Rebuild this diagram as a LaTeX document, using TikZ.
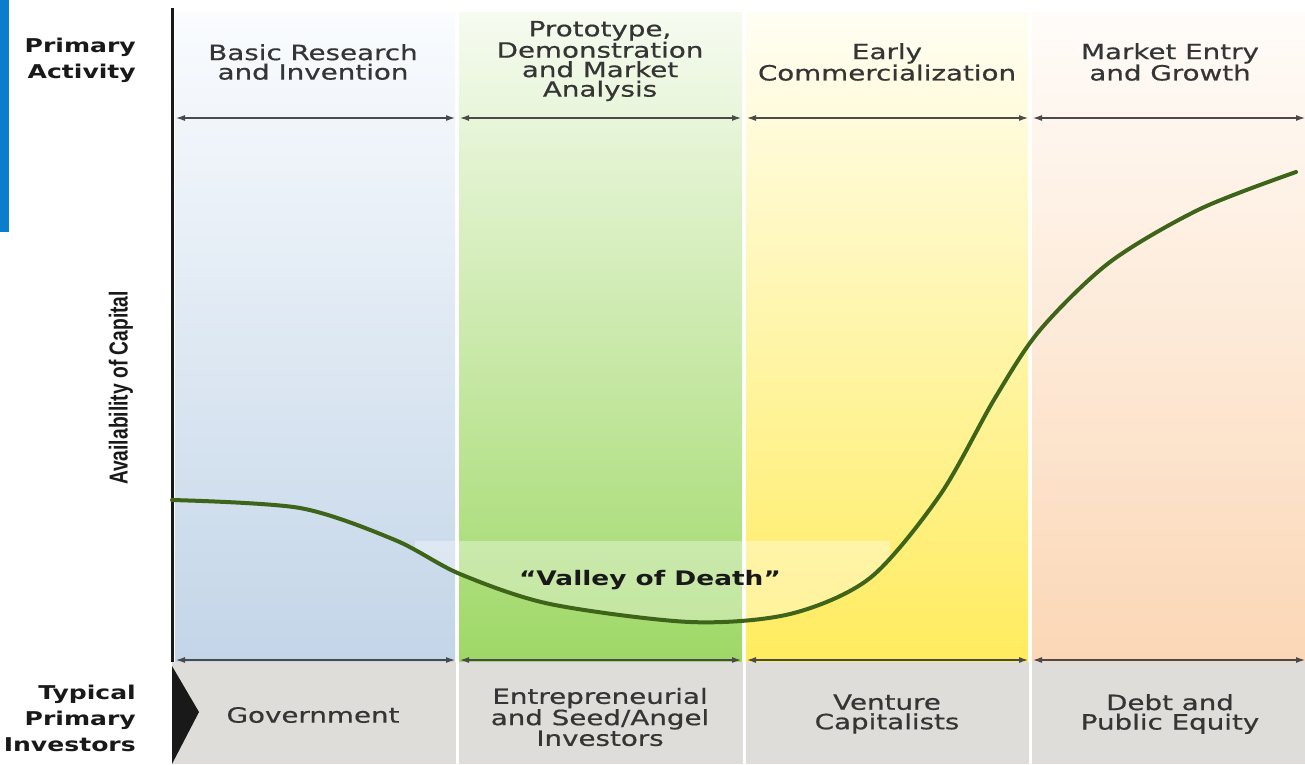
\documentclass[tikz,border=0pt]{standalone}
\usepackage{fontspec}
\setmainfont{DejaVu Sans}[FakeStretch=1.32]
\newfontfamily\phasefont{DejaVu Sans}[FakeStretch=1.32, FakeBold=0.6]
\newfontfamily\narrowfont{Liberation Sans}
\usepackage{graphicx}
\usetikzlibrary{arrows.meta,positioning}

\definecolor{txtgray}{HTML}{353535}
\definecolor{spangray}{HTML}{4A4A4A}
\definecolor{bandgray}{HTML}{DEDDD9}
\definecolor{curvegreen}{HTML}{3D6418}
\definecolor{sidebarblue}{HTML}{0A7DCC}
\definecolor{bluetop}{HTML}{FAFCFE}
\definecolor{bluemid}{HTML}{DCE6F1}
\definecolor{bluebot}{HTML}{C3D5E8}
\definecolor{greentop}{HTML}{F6FBF0}
\definecolor{greenmid}{HTML}{CDEAAA}
\definecolor{greenbot}{HTML}{9FD867}
\definecolor{yellowtop}{HTML}{FFFEF4}
\definecolor{yellowmid}{HTML}{FFF8B6}
\definecolor{yellowbot}{HTML}{FFEC5E}
\definecolor{peachtop}{HTML}{FFFCF9}
\definecolor{peachmid}{HTML}{FDEBDC}
\definecolor{peachbot}{HTML}{FBD7B6}

\newcommand{\valleypts}{(172,500) (300,508) (395,540) (460,574) (550,604) (690,622) (790,614) (870,578) (940,495) (995,398) (1040,330) (1110,262) (1200,209) (1296,172)}

\tikzset{
  phase/.style={text=txtgray, align=center, inner sep=0pt, font=\phasefont\fontsize{21}{19.5}\selectfont},
  rowhead/.style={text=black!90, align=right, inner sep=0pt, anchor=east, font=\bfseries\fontsize{19}{26}\selectfont},
  span/.style={{Latex[length=9pt,width=6pt]}-{Latex[length=9pt,width=6pt]}, draw=spangray, line width=1.1pt}
}

\begin{document}
\begin{tikzpicture}[x=1pt, y=-1pt]
    \useasboundingbox (0,0) rectangle (1305,764);
    \fill[white] (0,0) rectangle (1305,764);

    % phase columns
    \shade[top color=bluetop, middle color=bluemid, bottom color=bluebot] (175,12) rectangle (455,661);
    \shade[top color=greentop, middle color=greenmid, bottom color=greenbot] (459,12) rectangle (742,661);
    \shade[top color=yellowtop, middle color=yellowmid, bottom color=yellowbot] (746,12) rectangle (1028,661);
    \shade[top color=peachtop, middle color=peachmid, bottom color=peachbot] (1032,12) rectangle (1305,661);

    % lighter valley band
    \begin{scope}
        \clip (415,541) rectangle (890,700);
        \fill[white, opacity=0.35] plot[smooth] coordinates {\valleypts} -- (1305,0) -- (172,0) -- cycle;
    \end{scope}

    % investor band
    \fill[bandgray] (172,662) rectangle (1305,764);
    \foreach \x in {457,744,1030}
        \draw[white, line width=3pt] (\x,662) -- (\x,764);
    \fill[black!90] (172,666) -- (199,712) -- (172,764) -- cycle;

    \fill[sidebarblue] (0,0) rectangle (9,232);
    \draw[black!90, line width=3pt] (172,8) -- (172,662);

    % spans
    \foreach \i/\l/\r in {1/176/455, 2/460/741, 3/747/1028, 4/1033/1305} {
        \coordinate (tl\i) at (\l,118);
        \coordinate (tr\i) at (\r,118);
        \draw[span] (tl\i) -- (tr\i);
        \coordinate (bl\i) at (\l,660);
        \coordinate (br\i) at (\r,660);
        \draw[span] (bl\i) -- (br\i);
    }

    \draw[curvegreen, line width=4pt, line cap=round] plot[smooth] coordinates {\valleypts};

    \node[rowhead] (primact) at (136,60) {Primary\\Activity};
    \node[rowhead] (typinv) at (136,718) {Typical\\Primary\\Investors};
    \node[rotate=90, text=black!90, font=\narrowfont\bfseries\fontsize{26}{28}\selectfont] (avail) at (121,388) {\scalebox{0.74}[1]{Availability of Capital}};

    \node[phase] (basic) at (313,62) {Basic Research\\and Invention};
    \node[phase] (proto) at (600,61) {Prototype,\\Demonstration\\and Market\\Analysis};
    \node[phase] (early) at (887,62) {Early\\Commercialization};
    \node[phase] (market) at (1170,62) {Market Entry\\and Growth};

    \node[phase] (gov) at (313,715) {Government};
    \node[phase] (angel) at (600,717) {Entrepreneurial\\and Seed/Angel\\Investors};
    \node[phase] (venture) at (887,714) {Venture\\Capitalists};
    \node[phase] (debt) at (1170,714) {Debt and\\Public Equity};

    \node[text=black!90, font=\bfseries\fontsize{20}{22}\selectfont] (valley) at (650,580) {“Valley of Death”};
\end{tikzpicture}
\end{document}
